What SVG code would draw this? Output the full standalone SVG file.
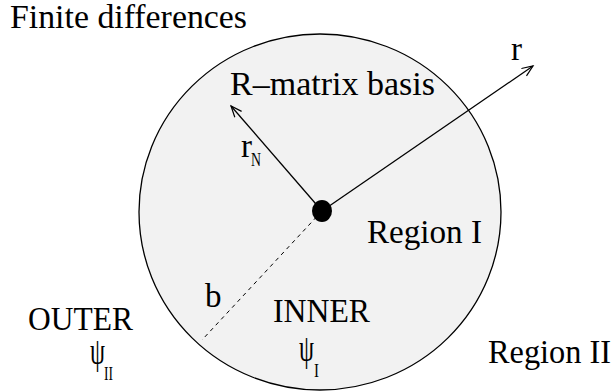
<svg xmlns="http://www.w3.org/2000/svg" width="613" height="392" viewBox="0 0 613 392">
  <style>
    text { font-family: "Liberation Serif", "Times New Roman", Tinos, "DejaVu Serif", serif; fill: #000; }
    .t { font-size: 33px; }
    .sub { font-size: 19px; }
    .psi { font-size: 38px; }
    .ln { stroke: #000; stroke-width: 1.3; fill: none; }
    .dash { stroke: #000; stroke-width: 1; stroke-dasharray: 4 4; fill: none; }
  </style>
  <defs>
    <marker id="arr" markerUnits="userSpaceOnUse" markerWidth="14" markerHeight="12" refX="12" refY="5" orient="auto">
      <path d="M1,0.5 L12,5 L1,9.5" fill="none" stroke="#000" stroke-width="1.2"/>
    </marker>
  </defs>
  <rect width="613" height="392" fill="#fff"/>

  <g id="region-inner">
    <ellipse cx="320" cy="212" rx="181" ry="178" fill="#f2f2f2" stroke="#000" stroke-width="1.3"/>
  </g>

  <g id="connectors">
    <line class="ln" x1="322" y1="211" x2="231" y2="106" marker-end="url(#arr)"/>
    <line class="ln" x1="322" y1="211" x2="533" y2="66" marker-end="url(#arr)"/>
    <line class="dash" x1="322" y1="211" x2="202" y2="340"/>
  </g>

  <g id="nucleus">
    <ellipse cx="322" cy="211" rx="10" ry="11" fill="#000"/>
  </g>

  <g id="label-finite">
    <text class="t" x="10" y="28" textLength="237" lengthAdjust="spacingAndGlyphs">Finite differences</text>
  </g>
  <g id="label-rmatrix">
    <text class="t" x="230" y="95" textLength="205" lengthAdjust="spacingAndGlyphs">R–matrix basis</text>
  </g>
  <g id="label-r">
    <text class="t" x="511" y="60">r</text>
  </g>
  <g id="label-rN">
    <text class="t" x="241" y="157">r</text>
    <text class="sub" x="251" y="166" textLength="10" lengthAdjust="spacingAndGlyphs">N</text>
  </g>
  <g id="label-region1">
    <text class="t" x="367" y="243" textLength="115" lengthAdjust="spacingAndGlyphs">Region I</text>
  </g>
  <g id="label-b">
    <text class="t" x="205" y="307">b</text>
  </g>
  <g id="label-outer">
    <text class="t" x="28" y="330" textLength="105" lengthAdjust="spacingAndGlyphs">OUTER</text>
    <text class="psi" x="90" y="364" textLength="15" lengthAdjust="spacingAndGlyphs">ψ</text>
    <text class="sub" x="104" y="380" textLength="9" lengthAdjust="spacingAndGlyphs">II</text>
  </g>
  <g id="label-inner">
    <text class="t" x="273" y="322" textLength="97" lengthAdjust="spacingAndGlyphs">INNER</text>
    <text class="psi" x="299" y="361" textLength="15" lengthAdjust="spacingAndGlyphs">ψ</text>
    <text class="sub" x="314" y="377" textLength="5" lengthAdjust="spacingAndGlyphs">I</text>
  </g>
  <g id="label-region2">
    <text class="t" x="488" y="363" textLength="123" lengthAdjust="spacingAndGlyphs">Region II</text>
  </g>
</svg>
